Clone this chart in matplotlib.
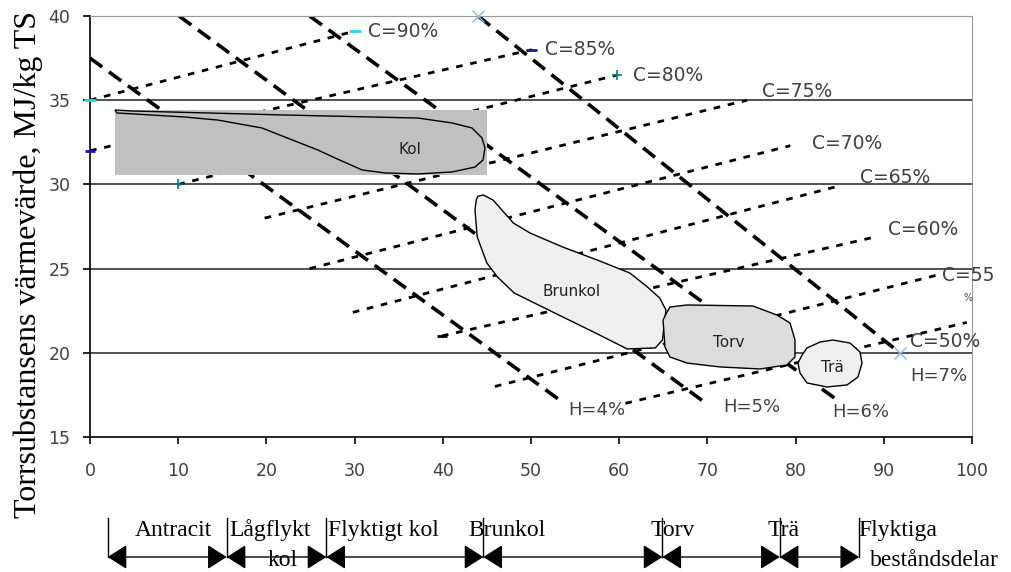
import matplotlib
matplotlib.use('Agg')
import matplotlib.pyplot as plt
import matplotlib.transforms as mtransforms
from matplotlib.patches import Polygon, Rectangle

# H-linjer (streckade)
h_labels = ['H=4%', 'H=5%', 'H=6%', 'H=7%']
h_x = [[0, 53.5], [10.1, 70.1], [24.9, 84.7], [44.0, 91.8]]
h_y = [[37.5, 17.1], [40.0, 16.9], [40.0, 17.2], [40.0, 20.0]]
h_text_x = [54.2, 71.8, 84.2, 93.0]
h_text_y = [16.6, 16.8, 16.5, 18.6]

# C-linjer (prickade)
c_labels = ['C=90%', 'C=85%', 'C=80%', 'C=75%', 'C=70%', 'C=65%', 'C=60%', 'C=55', 'C=50%']
c_x = [[0, 30.0], [0, 50.1], [10.0, 59.8], [19.8, 74.5], [24.9, 79.4],
       [29.8, 84.5], [39.9, 89.2], [45.9, 96.7], [60.7, 99.4]]
c_y = [[35.0, 39.1], [32.0, 38.0], [30.0, 36.5], [28.0, 35.0], [25.0, 32.3],
       [22.4, 29.85], [21.0, 26.9], [18.0, 24.7], [17.0, 21.8]]
c_text_x = [31.5, 51.6, 61.6, 76.2, 81.9, 87.3, 90.5, 96.6, 93.0]
c_text_y = [39.1, 38.0, 36.45, 35.5, 32.45, 30.4, 27.3, 24.6, 20.65]

# Kol-rektangel
kol_box = (2.8, 30.56, 45.0, 34.42)

# Bränslen (konturer)
kol_x = [2.83, 4.76, 22.11, 37.19, 41.04, 43.31, 44.44, 44.78, 44.56, 43.65, 41.04, 37.19,
         33.45, 30.84, 27.78, 25.85, 22.11, 19.50, 14.51, 10.77, 5.10, 3.06]
kol_y = [34.42, 34.36, 34.12, 33.94, 33.65, 33.35, 32.76, 32.16, 31.45, 31.03, 30.74, 30.62,
         30.68, 30.86, 31.57, 32.04, 32.81, 33.35, 33.82, 34.00, 34.18, 34.24]
brunkol_x = [44.0, 44.6, 45.7, 48.0, 49.9, 53.6, 57.5, 61.2, 63.2, 64.6, 65.3, 65.1, 64.9,
             64.1, 60.9, 57.3, 52.7, 48.1, 46.2, 45.0, 43.9, 43.65, 43.8]
brunkol_y = [29.3, 29.37, 29.07, 27.71, 27.11, 26.28, 25.51, 24.74, 23.91, 23.25, 22.54, 21.65,
             20.76, 20.29, 20.23, 21.18, 22.36, 23.55, 24.50, 25.33, 26.88, 28.48, 29.1]
torv_x = [65.76, 67.69, 75.17, 77.89, 79.37, 79.93, 79.93, 79.02, 75.96, 71.43, 67.69, 65.76,
          65.19, 64.97, 65.42]
torv_y = [22.72, 22.84, 22.78, 22.24, 21.77, 20.76, 19.75, 19.28, 19.04, 19.16, 19.39, 19.75,
          20.34, 21.95, 22.42]
tra_x = [81.29, 82.77, 84.24, 86.17, 87.30, 87.53, 87.07, 85.83, 83.56, 81.29, 80.50, 80.27, 80.73]
tra_y = [20.29, 20.64, 20.76, 20.58, 20.05, 19.39, 18.56, 18.09, 17.97, 18.21, 18.80, 19.39, 19.87]

fuel_names = ['Kol', 'Brunkol', 'Torv', 'Trä']
fuel_text_x = [36.3, 54.6, 72.4, 84.2]
fuel_text_y = [32.1, 23.65, 20.6, 19.15]

# Indelning efter flyktiga beståndsdelar
bounds = [2.0, 15.5, 26.8, 44.6, 64.9, 78.2, 87.2]
class_names = ['Antracit', 'Lågflykt', 'Flyktigt kol', 'Brunkol', 'Torv', 'Trä', 'Flyktiga']
class_x = [5.1, 15.8, 27.0, 42.9, 63.5, 76.8, 87.1]
second_row = ['kol', 'beståndsdelar']
second_x = [21.8, 88.4]

fig = plt.figure(figsize=(10.11, 5.72), dpi=100)
ax = fig.add_axes([90 / 1011, 1 - 437 / 572, 882 / 1011, 421 / 572])
ax.set_xlim(0, 100)
ax.set_ylim(15, 40)

for yy in [20, 25, 30, 35]:
    ax.axhline(yy, color='#333333', lw=1.2, zorder=1)

sans = 'DejaVu Sans'
txtc = '#404040'

for i in range(len(h_labels)):
    ax.plot(h_x[i], h_y[i], color='black', lw=2.6, ls=(0, (4.2, 2.3)), zorder=2)
    ax.text(h_text_x[i], h_text_y[i], h_labels[i], fontsize=13, family=sans,
            color=txtc, va='center', ha='left', zorder=6)
# x-markörer på H=7%
ax.plot(h_x[3], h_y[3], ls='none', marker='x', ms=8, mew=1, color='#88bbee', zorder=6,
        clip_on=False)

for i in range(len(c_labels)):
    ax.plot(c_x[i], c_y[i], color='black', lw=2.0, ls=(0, (2.4, 2.8)), zorder=2)
    ax.text(c_text_x[i], c_text_y[i], c_labels[i], fontsize=13.5, family=sans,
            color=txtc, va='center', ha='left', zorder=6)
ax.text(99.0, 23.25, '%', fontsize=7, family=sans, color=txtc, va='center', ha='left', zorder=6)

ax.plot(c_x[0], c_y[0], ls='none', marker='_', ms=8, mew=2, color='#33ccff', zorder=6, clip_on=False)
ax.plot(c_x[1], c_y[1], ls='none', marker='_', ms=7, mew=2, color='#1a1aa0', zorder=6, clip_on=False)
ax.plot(c_x[2], c_y[2], ls='none', marker='+', ms=7, mew=1.2, color='#008080', zorder=6, clip_on=False)
ax.plot(c_x[6][:1], c_y[6][:1], ls='none', marker='_', ms=7, mew=2, color='black', zorder=6)

ax.add_patch(Rectangle((kol_box[0], kol_box[1]), kol_box[2] - kol_box[0], kol_box[3] - kol_box[1],
                       fc='#c0c0c0', ec='none', zorder=3))
fills = ['#c0c0c0', '#efefef', '#dcdcdc', '#efefef']
shapes = [(kol_x, kol_y), (brunkol_x, brunkol_y), (torv_x, torv_y), (tra_x, tra_y)]
for (sx, sy), fc in zip(shapes, fills):
    ax.add_patch(Polygon(list(zip(sx, sy)), closed=True, fc=fc, ec='black', lw=1.0, zorder=4))
for name, tx, ty in zip(fuel_names, fuel_text_x, fuel_text_y):
    ax.text(tx, ty, name, fontsize=11, family=sans, color='#222222', ha='center', va='center',
            zorder=6)

# axlar
ax.spines['top'].set_color('#999999')
ax.spines['right'].set_color('#999999')
ax.spines['left'].set_linewidth(1.2)
ax.spines['bottom'].set_linewidth(1.2)
ax.set_xticks(range(0, 101, 10))
ax.set_yticks(range(15, 41, 5))
ax.tick_params(axis='both', direction='out', length=5, width=1.2, colors='black',
               labelcolor=txtc, labelsize=12.5)
ax.tick_params(axis='x', pad=13)
ax.tick_params(axis='y', pad=9)
for lab in ax.get_xticklabels() + ax.get_yticklabels():
    lab.set_family(sans)

fig.text(28 / 1011, 1 - 264 / 572, 'Torrsubstansens värmevärde, MJ/kg TS', rotation=90,
         ha='center', va='center', fontsize=23, family='Liberation Serif')

# pilar under diagrammet
trans = mtransforms.blended_transform_factory(ax.transData, ax.transAxes)
y_top = (437 - 518) / 421
y_arr = (437 - 557) / 421
y_row1 = (437 - 536) / 421
y_row2 = (437 - 566) / 421
for b in bounds:
    ax.plot([b, b], [y_top, y_arr], transform=trans, color='black', lw=1, clip_on=False)
for i in range(len(bounds) - 1):
    ax.annotate('', xy=(bounds[i + 1], y_arr), xytext=(bounds[i], y_arr),
                xycoords=trans, textcoords=trans, annotation_clip=False,
                arrowprops=dict(arrowstyle='<|-|>,head_length=0.6,head_width=0.38',
                                color='black', lw=1, shrinkA=0, shrinkB=0, mutation_scale=20))
serif = 'Liberation Serif'
for name, tx in zip(class_names, class_x):
    ax.text(tx, y_row1, name, transform=trans, fontsize=17, family=serif, ha='left',
            va='baseline', clip_on=False)
ax.text(second_x[0], y_row2, second_row[0], transform=trans, fontsize=17, family=serif,
        ha='center', va='baseline', clip_on=False)
ax.text(second_x[1], y_row2, second_row[1], transform=trans, fontsize=17, family=serif,
        ha='left', va='baseline', clip_on=False)

fig.savefig('out.png', dpi=100)
